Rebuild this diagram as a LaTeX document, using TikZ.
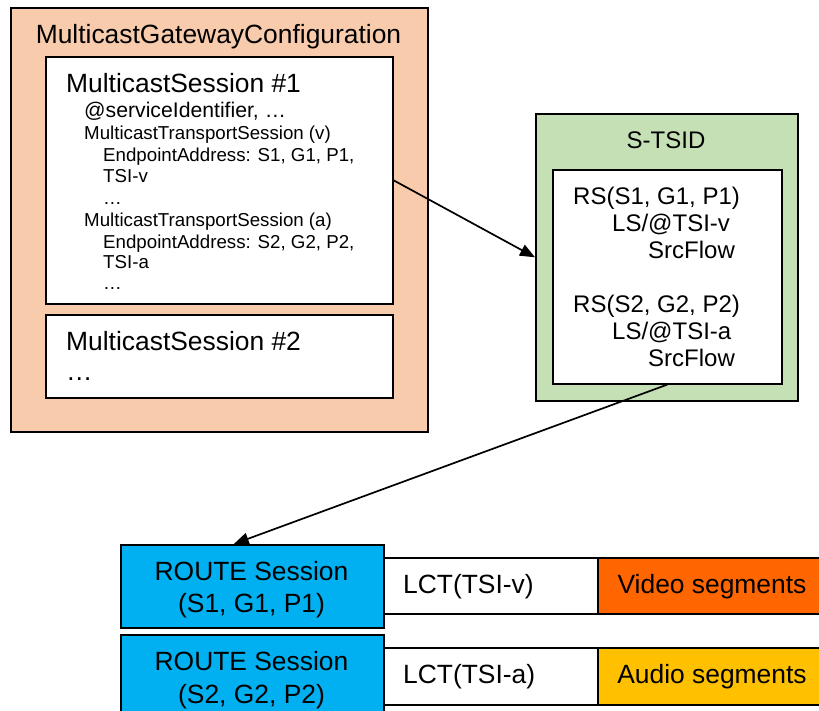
\documentclass[tikz,border=0pt]{standalone}
\usepackage{fontspec}
\setmainfont{Liberation Sans}
\usetikzlibrary{arrows.meta,calc}
\definecolor{peach}{HTML}{F8CBAD}
\definecolor{sgreen}{HTML}{C5E0B4}
\definecolor{rblue}{HTML}{00B0F0}
\definecolor{vorange}{HTML}{FF6600}
\definecolor{ayellow}{HTML}{FFC000}
\begin{document}
\begin{tikzpicture}[x=1pt,y=-1pt,
 box/.style={draw=black, line width=1.6pt, inner sep=0pt, anchor=north west, rectangle},
 txt/.style={inner sep=0pt, anchor=base west},
 ctxt/.style={inner sep=0pt, anchor=base},
 big/.style={font=\fontsize{26.4}{30}\selectfont},
 mid/.style={font=\fontsize{21.2}{24}\selectfont},
 small/.style={font=\fontsize{18.7}{21}\selectfont},
 tsid/.style={font=\fontsize{24}{27}\selectfont},
 arr/.style={line width=1.7pt, -{Triangle[length=15pt,width=12pt]}}]
\useasboundingbox (0,0) rectangle (819,710);
\clip (0,0) rectangle (819,710);
\fill[white] (0,0) rectangle (819,710);
% MulticastGatewayConfiguration
\node[box, fill=peach, minimum width=417pt, minimum height=424pt] (mgc) at (10,7) {};
\node[ctxt, big] (mgct) at (218.5,43) {MulticastGatewayConfiguration};
\node[box, fill=white, minimum width=347pt, minimum height=247pt] (ms1) at (45,56) {};
\node[txt, big] (ms1t) at (66,92) {MulticastSession \#1};
\node[txt, mid] (l1) at (84,117) {@serviceIdentifier, …};
\node[txt, small] (l2) at (84,139) {MulticastTransportSession (v)};
\node[txt, small] (l3) at (103,161) {EndpointAddress: S1, G1, P1,};
\node[txt, small] (l4) at (103,182) {TSI-v};
\node[txt, small] (l5) at (103,204) {…};
\node[txt, small] (l6) at (84,226) {MulticastTransportSession (a)};
\node[txt, small] (l7) at (103,248) {EndpointAddress: S2, G2, P2,};
\node[txt, small] (l8) at (103,268) {TSI-a};
\node[txt, small] (l9) at (103,289) {…};
\node[box, fill=white, minimum width=347pt, minimum height=83pt] (ms2) at (45,314) {};
\node[txt, big] (ms2t) at (66,350) {MulticastSession \#2};
\node[txt, big] (ms2d) at (66,380) {…};
% S-TSID
\node[box, fill=sgreen, minimum width=262pt, minimum height=287pt] (stsid) at (535,113) {};
\node[ctxt, tsid] (stsidt) at (666,148) {S-TSID};
\node[box, fill=white, minimum width=229pt, minimum height=214pt] (tsidin) at (552,169) {};
\node[txt, tsid] (r1) at (573,204) {RS(S1, G1, P1)};
\node[txt, tsid] (r2) at (612,231) {LS/@TSI-v};
\node[txt, tsid] (r3) at (648,258) {SrcFlow};
\node[txt, tsid] (r4) at (573,312) {RS(S2, G2, P2)};
\node[txt, tsid] (r5) at (612,339) {LS/@TSI-a};
\node[txt, tsid] (r6) at (648,366) {SrcFlow};
% bottom rows
\node[box, fill=white, minimum width=214pt, minimum height=56pt] (lct1) at (383,557) {};
\node[box, fill=vorange, minimum width=233pt, minimum height=56pt] (vid) at (597,557) {};
\node[box, fill=white, minimum width=214pt, minimum height=57pt] (lct2) at (383,647) {};
\node[box, fill=ayellow, minimum width=233pt, minimum height=57pt] (aud) at (597,647) {};
\node[box, fill=rblue, minimum width=263pt, minimum height=83pt] (route1) at (120,544) {};
\node[box, fill=rblue, minimum width=263pt, minimum height=83pt] (route2) at (120,634) {};
\node[ctxt, big] (rt1a) at (251.5,580) {ROUTE Session};
\node[ctxt, big] (rt1b) at (251.5,612) {(S1, G1, P1)};
\node[ctxt, big] (rt2a) at (251.5,670) {ROUTE Session};
\node[ctxt, big] (rt2b) at (251.5,703) {(S2, G2, P2)};
\node[txt, big] (lct1t) at (403,593) {LCT(TSI-v)};
\node[txt, big] (lct2t) at (403,683) {LCT(TSI-a)};
\node[ctxt, big] (vidt) at (712,593) {Video segments};
\node[ctxt, big] (audt) at (712,683) {Audio segments};
% connectors
\draw[arr] (ms1.east) -- (stsid.west);
\draw[arr] (tsidin.south) -- ($(route1.north west)!0.43!(route1.north east)$);
\end{tikzpicture}
\end{document}
